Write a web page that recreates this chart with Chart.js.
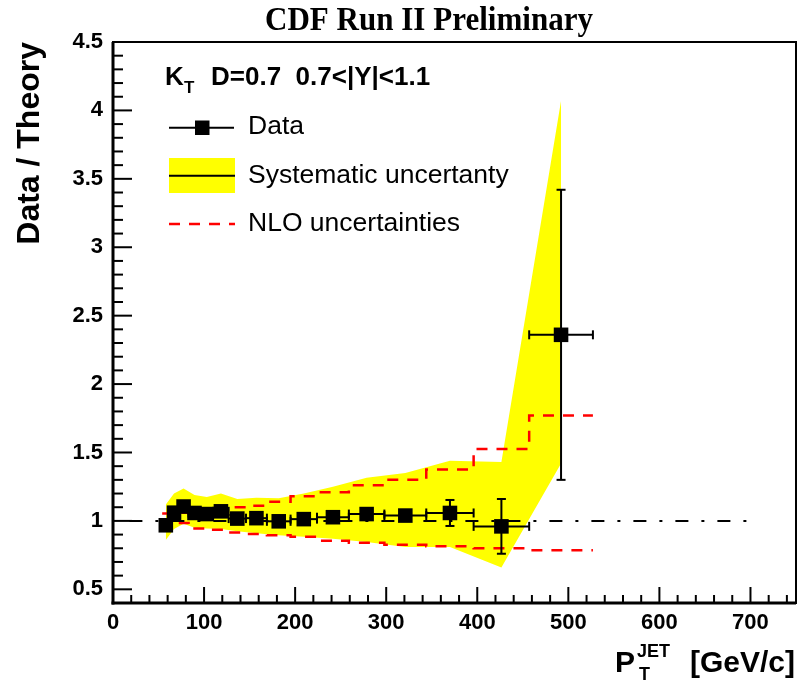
<!DOCTYPE html>
<html>
<head>
<meta charset="utf-8">
<script src="https://cdn.jsdelivr.net/npm/chart.js@4.4.0/dist/chart.umd.min.js"></script>
<style>
html,body{margin:0;padding:0;background:#ffffff;}
canvas{display:block;}
</style>
</head>
<body>
<canvas id="c" width="799" height="682"></canvas>
<script>
// ---- data ----
const binLo = [54, 62, 72, 83, 96, 110, 127, 146, 169, 195, 224, 259, 298, 344, 396, 457];
const binHi = [62, 72, 83, 96, 110, 127, 146, 169, 195, 224, 259, 298, 344, 396, 457, 527];
const ptCenter = [58, 67, 77.5, 89.5, 103, 118.5, 136.5, 157.5, 182, 209.5, 241.5, 278.5, 321, 370, 426.5, 492];
const dataRatio = [0.968, 1.06, 1.105, 1.058, 1.05, 1.07, 1.017, 1.02, 0.997, 1.013, 1.027, 1.05, 1.039, 1.058, 0.96, 2.36];
const dataErr = [0.01, 0.01, 0.01, 0.01, 0.01, 0.01, 0.01, 0.01, 0.015, 0.015, 0.02, 0.025, 0.03, 0.095, 0.2, 1.06];
const sysUp = [1.12, 1.20, 1.236, 1.19, 1.175, 1.20, 1.16, 1.17, 1.165, 1.20, 1.25, 1.315, 1.35, 1.44, 1.43, 4.07];
const sysLow = [0.86, 0.94, 0.98, 0.95, 0.945, 0.94, 0.925, 0.91, 0.895, 0.885, 0.87, 0.845, 0.81, 0.81, 0.66, 1.42];
const nloUp = [1.055, 1.055, 1.06, 1.055, 1.06, 1.08, 1.10, 1.11, 1.14, 1.18, 1.21, 1.26, 1.30, 1.375, 1.525, 1.77];
const nloLow = [0.96, 0.975, 0.985, 0.945, 0.945, 0.935, 0.915, 0.905, 0.895, 0.885, 0.855, 0.84, 0.825, 0.815, 0.80, 0.785];
const refLineX = [18, 700];
const refLineY = [1, 1];
const xTicks = [0, 100, 200, 300, 400, 500, 600, 700];
const yTicks = [0.5, 1, 1.5, 2, 2.5, 3, 3.5, 4, 4.5];

const SANS = "'Liberation Sans', Arial, Helvetica, sans-serif";
const SERIF = "'Liberation Serif', 'Times New Roman', serif";

// ---- build datasets ----
const bandUpper = ptCenter.map((x, i) => ({x: x, y: sysUp[i]}));
const bandLower = ptCenter.map((x, i) => ({x: x, y: sysLow[i]}));
function stepPts(vals) {
  const p = binLo.map((x, i) => ({x: x, y: vals[i]}));
  p.push({x: binHi[binHi.length - 1], y: vals[vals.length - 1]});
  return p;
}
const dataPts = ptCenter.map((x, i) => ({x: x, y: dataRatio[i]}));
const refPts = refLineX.map((x, i) => ({x: x, y: refLineY[i]}));

function fitText(ctx, text, x, y, font, width, align) {
  ctx.save();
  ctx.font = font;
  ctx.textAlign = align || 'left';
  ctx.textBaseline = 'alphabetic';
  const w = ctx.measureText(text).width;
  const sx = width ? width / w : 1;
  ctx.translate(x, y);
  ctx.scale(sx, 1);
  ctx.fillText(text, 0, 0);
  ctx.restore();
}
function seg(ctx, x1, y1, x2, y2) {
  ctx.beginPath(); ctx.moveTo(x1, y1); ctx.lineTo(x2, y2); ctx.stroke();
}

const rootPlugin = {
  id: 'rootStyle',
  beforeDatasetDraw(chart, args) {
    if (args.index !== 0) return;
    const ctx = chart.ctx, xs = chart.scales.x, ys = chart.scales.y;
    ctx.save();
    ctx.strokeStyle = '#000'; ctx.lineWidth = 2; ctx.lineCap = 'butt';
    // error bars (drawn just before the data markers)
    for (let i = 0; i < ptCenter.length; i++) {
      const px = xs.getPixelForValue(ptCenter[i]);
      const py = ys.getPixelForValue(dataRatio[i]);
      const xl = xs.getPixelForValue(binLo[i]);
      const xh = xs.getPixelForValue(binHi[i]);
      const yt = ys.getPixelForValue(dataRatio[i] + dataErr[i]);
      const yb = ys.getPixelForValue(dataRatio[i] - dataErr[i]);
      seg(ctx, xl, py, xh, py);
      seg(ctx, xl, py - 4.5, xl, py + 4.5);
      seg(ctx, xh, py - 4.5, xh, py + 4.5);
      seg(ctx, px, yt, px, yb);
      seg(ctx, px - 4.5, yt, px + 4.5, yt);
      seg(ctx, px - 4.5, yb, px + 4.5, yb);
    }
    ctx.restore();
  },
  afterDatasetsDraw(chart) {
    const ctx = chart.ctx, xs = chart.scales.x, ys = chart.scales.y, a = chart.chartArea;
    ctx.save();
    ctx.strokeStyle = '#000';
    // frame
    ctx.lineWidth = 2;
    ctx.strokeRect(a.left, a.top, a.right - a.left, a.bottom - a.top);
    ctx.lineWidth = 3;
    seg(ctx, a.left, a.top, a.left, a.bottom + 1.5);
    seg(ctx, a.left - 1.5, a.bottom, a.right, a.bottom);
    // ticks on x
    ctx.lineWidth = 2;
    for (let v = 20; v <= 740; v += 20) {
      const p = xs.getPixelForValue(v);
      const len = (v % 100 === 0) ? 16 : 8;
      seg(ctx, p, a.bottom, p, a.bottom - len);
    }
    // ticks on y
    for (let k = 5; k <= 45; k++) {
      const p = ys.getPixelForValue(k / 10);
      const len = (k % 5 === 0) ? 19 : 10;
      seg(ctx, a.left, p, a.left + len, p);
    }
    ctx.restore();
  },
  afterDraw(chart) {
    const ctx = chart.ctx;
    ctx.save();
    ctx.fillStyle = '#000';
    // title
    fitText(ctx, 'CDF Run II Preliminary', 429, 30, 'bold 33px ' + SERIF, 328, 'center');
    // y axis title
    ctx.save();
    ctx.translate(39, 42);
    ctx.rotate(-Math.PI / 2);
    ctx.font = 'bold 32px ' + SANS;
    ctx.textAlign = 'right';
    ctx.textBaseline = 'alphabetic';
    ctx.fillText('Data / Theory', 0, 0);
    ctx.restore();
    // x axis title
    ctx.font = 'bold 30px ' + SANS;
    ctx.textAlign = 'left';
    ctx.fillText('P', 615, 672);
    ctx.font = 'bold 18px ' + SANS;
    ctx.fillText('JET', 637, 657);
    ctx.fillText('T', 639, 680);
    ctx.font = 'bold 30px ' + SANS;
    ctx.textAlign = 'right';
    ctx.fillText('[GeV/c]', 795, 672);
    // legend header
    ctx.textAlign = 'left';
    ctx.font = 'bold 26px ' + SANS;
    ctx.fillText('K', 165, 85);
    ctx.font = 'bold 17px ' + SANS;
    ctx.fillText('T', 184, 93);
    ctx.font = 'bold 26px ' + SANS;
    ctx.fillText('D=0.7  0.7<|Y|<1.1', 211, 85);
    // legend: Data
    ctx.strokeStyle = '#000'; ctx.lineWidth = 2;
    seg(ctx, 169, 127.7, 234, 127.7);
    ctx.fillRect(195, 120.5, 14.5, 14.5);
    ctx.font = '26.5px ' + SANS;
    ctx.fillText('Data', 248, 134);
    // legend: systematic
    ctx.fillStyle = '#ffff00';
    ctx.fillRect(169, 158, 66, 35);
    ctx.fillStyle = '#000';
    seg(ctx, 169, 175.7, 235, 175.7);
    ctx.fillText('Systematic uncertanty', 248, 183);
    // legend: NLO
    ctx.strokeStyle = '#ff0000'; ctx.lineWidth = 2.5;
    ctx.setLineDash([11, 9]);
    seg(ctx, 169, 224, 235, 224);
    ctx.setLineDash([]);
    ctx.fillText('NLO uncertainties', 248, 231);
    ctx.restore();
  }
};

const chart = new Chart(document.getElementById('c'), {
  type: 'line',
  data: {
    datasets: [
      {label: 'Data', data: dataPts, showLine: false, pointStyle: 'rect', pointRadius: 10.3,
       backgroundColor: '#000', borderColor: '#000', borderWidth: 0, pointBorderWidth: 0, order: 1},
      {label: 'ref', data: refPts, borderColor: '#000', borderWidth: 2, borderDash: [13, 13, 3, 13],
       pointRadius: 0, fill: false, order: 2},
      {label: 'NLO up', data: stepPts(nloUp), stepped: true, borderColor: '#ff0000', borderWidth: 2.5,
       borderDash: [11, 9], pointRadius: 0, fill: false, order: 3},
      {label: 'NLO low', data: stepPts(nloLow), stepped: true, borderColor: '#ff0000', borderWidth: 2.5,
       borderDash: [11, 9], pointRadius: 0, fill: false, order: 3},
      {label: 'Sys up', data: bandUpper, borderWidth: 0, borderColor: 'rgba(0,0,0,0)', pointRadius: 0,
       backgroundColor: '#ffff00', fill: '+1', tension: 0, order: 5},
      {label: 'Sys low', data: bandLower, borderWidth: 0, borderColor: 'rgba(0,0,0,0)', pointRadius: 0,
       fill: false, tension: 0, order: 6}
    ]
  },
  options: {
    responsive: false,
    animation: false,
    events: [],
    layout: {padding: {top: 42, right: 3, left: 0, bottom: 0}},
    plugins: {legend: {display: false}, tooltip: {enabled: false}, title: {display: false}},
    scales: {
      x: {
        type: 'linear', min: 0, max: 750,
        afterFit(s) { s.height = 79; s.paddingLeft = 0; s.paddingRight = 0; },
        afterBuildTicks(s) { s.ticks = xTicks.map(v => ({value: v})); },
        grid: {display: false, drawTicks: false},
        border: {display: false},
        ticks: {font: {family: SANS, weight: 'bold', size: 22}, color: '#000', padding: 7,
                maxRotation: 0, autoSkip: false, callback: v => String(v)}
      },
      y: {
        type: 'linear', min: 0.4, max: 4.5,
        afterFit(s) { s.width = 113; s.paddingTop = 0; s.paddingBottom = 0; },
        afterBuildTicks(s) { s.ticks = yTicks.map(v => ({value: v})); },
        grid: {display: false, drawTicks: false},
        border: {display: false},
        ticks: {font: {family: SANS, weight: 'bold', size: 22}, color: '#000', padding: 10,
                autoSkip: false, callback: v => String(v)}
      }
    }
  },
  plugins: [rootPlugin]
});
// the big square markers must not shrink the frame: ROOT frame is fixed
chart.getDatasetMeta(0).controller.getMaxOverflow = () => 0;
chart.update();
</script>
</body>
</html>
